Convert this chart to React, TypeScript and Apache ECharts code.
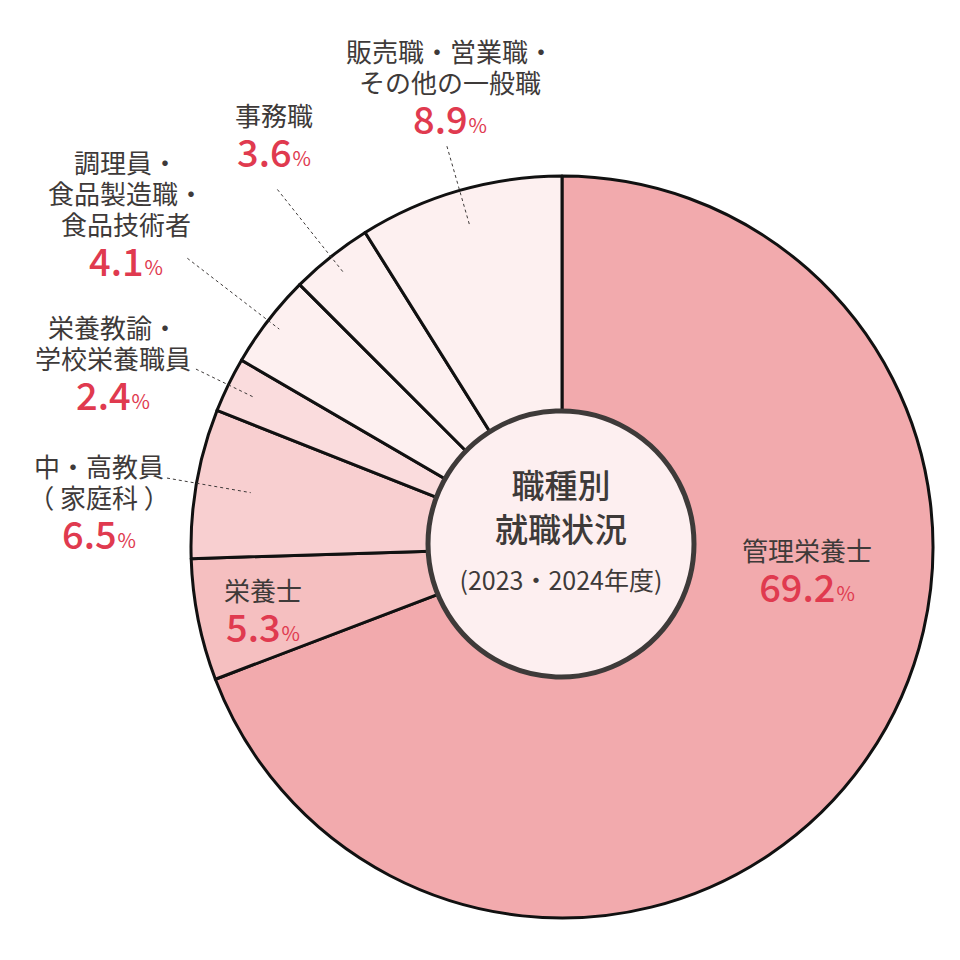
import React, { useEffect, useRef } from 'react';
import * as echarts from 'echarts';

// ---- data ----
const categories = [
  '管理栄養士',
  '栄養士',
  '中・高教員\n（ 家庭科 ）',
  '栄養教諭・\n学校栄養職員',
  '調理員・\n食品製造職・\n食品技術者',
  '事務職',
  '販売職・営業職・\nその他の一般職',
];
const shares = [69.2, 5.3, 6.5, 2.4, 4.1, 3.6, 8.9];
const sliceColors = ['#f2aaad', '#f5bfc0', '#f8cfd0', '#fadcdd', '#fdf0f0', '#fdf0f0', '#fdf0f0'];
const centerTitle = ['職種別', '就職状況'];
const centerSubtitle = '(2023・2024年度)';

// ---- layout ----
const CX = 562;
const CY = 547;
const R = 371;
const labelAnchors = [
  [807, 534],
  [263, 574],
  [99, 450],
  [113, 311],
  [126, 146],
  [274, 99],
  [450, 35],
];
const leaderRadii: (number[] | null)[] = [null, null, [401, 316], [407, 341], [473, 357], [457, 349], [417, 334]];

const FONT = '"Noto Sans CJK JP", "Noto Sans", sans-serif';
const DARK = '#3e3a39';
const RED = '#e03a4f';

export default function App() {
  const ref = useRef<HTMLDivElement>(null);
  useEffect(() => {
    if (!ref.current) return;
    const chart = echarts.init(ref.current, null, { renderer: 'svg' });
    const total = shares.reduce((a, b) => a + b, 0);
    let cum = 0;
    const leaders: any[] = [];
    shares.forEach((v, i) => {
      const mid = ((cum + v / 2) / total) * Math.PI * 2;
      cum += v;
      const rr = leaderRadii[i];
      if (!rr) return;
      const s = Math.sin(mid);
      const c = Math.cos(mid);
      leaders.push({
        type: 'line',
        z: 5,
        silent: true,
        shape: { x1: CX + rr[0] * s, y1: CY - rr[0] * c, x2: CX + rr[1] * s, y2: CY - rr[1] * c },
        style: { stroke: DARK, lineWidth: 1, lineDash: [3, 3] },
      });
    });

    chart.setOption({
      animation: false,
      graphic: [
        ...leaders,
        {
          type: 'circle',
          z: 10,
          silent: true,
          shape: { cx: 561, cy: 544, r: 133 },
          style: { fill: '#fdeff0', stroke: DARK, lineWidth: 5 },
        },
        {
          type: 'text',
          z: 11,
          x: 561,
          y: 484,
          style: { text: centerTitle[0], fill: DARK, font: `500 33px ${FONT}`, align: 'center', verticalAlign: 'middle' },
        },
        {
          type: 'text',
          z: 11,
          x: 561,
          y: 528,
          style: { text: centerTitle[1], fill: DARK, font: `500 33px ${FONT}`, align: 'center', verticalAlign: 'middle' },
        },
        {
          type: 'text',
          z: 11,
          x: 561,
          y: 579,
          style: { text: centerSubtitle, fill: DARK, font: `400 25px ${FONT}`, align: 'center', verticalAlign: 'middle' },
        },
      ],
      series: [
        {
          type: 'pie',
          center: [CX, CY],
          radius: [0, R],
          startAngle: 90,
          clockwise: true,
          avoidLabelOverlap: false,
          emphasis: { disabled: true },
          itemStyle: { borderColor: '#111', borderWidth: 3 },
          label: {
            show: true,
            position: 'outside',
            formatter: (p: any) => `{n|${p.name}}\n{v|${p.value}}{p|%}`,
            rich: {
              n: { fontFamily: FONT, fontSize: 26, color: DARK, lineHeight: 31, fontWeight: 400 },
              v: { fontFamily: FONT, fontSize: 38, color: RED, lineHeight: 40, verticalAlign: 'bottom', fontWeight: 500 },
              p: { fontFamily: FONT, fontSize: 20, color: RED, lineHeight: 40, verticalAlign: 'bottom', padding: [0, 0, 3, 1] },
            },
          },
          labelLine: { show: false },
          labelLayout: (params: any) => {
            const a = labelAnchors[params.dataIndex];
            return { x: a[0], y: a[1], align: 'center', verticalAlign: 'top' };
          },
          data: categories.map((n, i) => ({ name: n, value: shares[i], itemStyle: { color: sliceColors[i] } })),
        },
      ],
    });
    return () => chart.dispose();
  }, []);
  return <div ref={ref} style={{ position: 'absolute', left: 0, top: 0, width: 960, height: 960 }} />;
}
